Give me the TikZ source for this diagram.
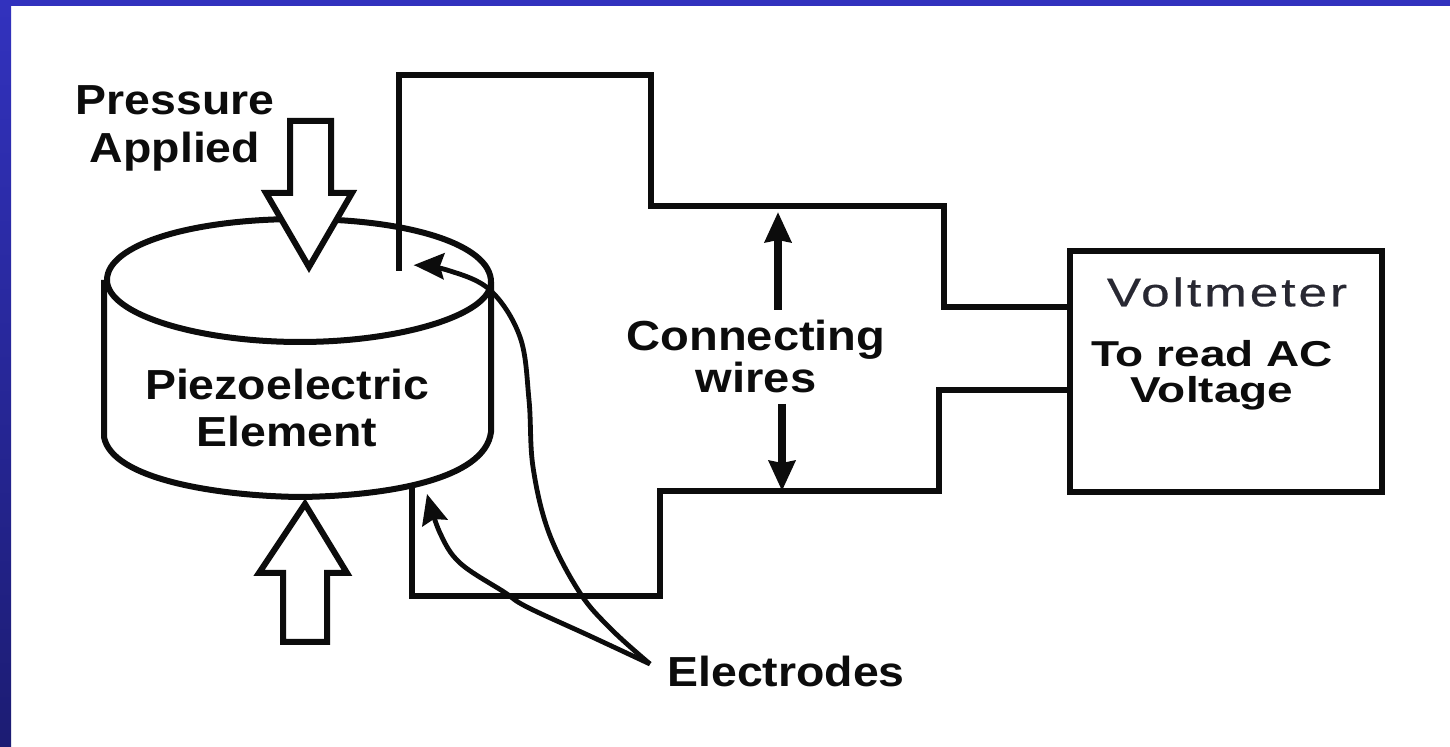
\documentclass[tikz,border=0pt]{standalone}
\usepackage{fontspec}
\setmainfont{Liberation Sans}
\newfontfamily\vmfont[LetterSpace=6,FakeBold=0.5]{Liberation Sans}
\usetikzlibrary{arrows.meta}
\definecolor{frameTop}{RGB}{50,50,190}
\definecolor{frameBot}{RGB}{28,28,115}
\definecolor{ink}{RGB}{12,12,12}
\definecolor{inkSoft}{RGB}{40,40,50}
\tikzset{
  wire/.style={draw=ink,line width=3pt,line join=miter},
  thin wire/.style={draw=ink,line width=2.8pt},
  lead/.style={draw=ink,line width=2.4pt,-{Stealth[inset=2pt,length=15pt,width=13pt]}},
  gauge/.style={draw=ink,line width=3.6pt,-{Stealth[inset=1pt,length=15pt,width=13pt]}},
  block/.style={draw=ink,line width=3pt,fill=white,line join=miter},
  lab/.style={font=\fontsize{21}{24}\selectfont\bfseries,text=ink,align=center,inner sep=0pt,xscale=1.105},
}
\begin{document}
\begin{tikzpicture}[x=0.5pt,y=-0.5pt]
\useasboundingbox (0,0) rectangle (1450,747);
\fill[white] (0,0) rectangle (1450,747);
\shade[top color=frameTop,bottom color=frameBot] (0,0) rectangle (11,747);
\fill[frameTop] (0,0) rectangle (1450,6);
% cylinder
\draw[wire] (104,280) -- (104,437) .. controls (112,480) and (220,496) .. (300,497)
  .. controls (385,496) and (485,480) .. (491,432) -- (491,282);
\draw[wire] (300,219) .. controls (190,219) and (107,245) .. (107,280)
  .. controls (107,315) and (200,342) .. (300,342)
  .. controls (400,342) and (491,315) .. (491,282)
  .. controls (491,245) and (410,219) .. (300,219);
% pressure arrows
\draw[block] (290,121) -- (331,121) -- (331,193) -- (352,193) -- (309,267) -- (266,193) -- (290,193) -- cycle;
\draw[block] (283,642) -- (327,642) -- (327,573) -- (347,573) -- (305,504) -- (259,573) -- (283,573) -- cycle;
% circuit
\coordinate (eTop) at (399,271);
\coordinate (eBot) at (412,488);
\node[draw=ink,line width=3pt,minimum width=156pt,minimum height=120.5pt,inner sep=0pt] (vm) at (1226,371.5) {};
\coordinate (vA) at (vm.west |- 0,307);
\coordinate (vB) at (vm.west |- 0,390);
\draw[thin wire] (eTop) -- (399,75) -- (651,75) -- (651,206) -- (944,206) -- (944,307) -- (vA);
\draw[thin wire] (eBot) -- (412,596) -- (660,596) -- (660,491) -- (939,491) -- (939,390) -- (vB);
% labels
\node[lab] (press) at (175,128) {Pressure\\Applied};
\node[lab,font=\fontsize{21}{23.5}\selectfont\bfseries] (elem) at (287,408) {Piezoelectric\\Element};
\node[lab,font=\fontsize{21}{21}\selectfont\bfseries,xscale=1.015] (conn) at (756,356) {Connecting\\wires};
\node[lab,font=\fontsize{20}{24}\selectfont\vmfont,text=inkSoft,xscale=1.155] (volt) at (1227,292) {Voltmeter};
\node[lab,font=\fontsize{18}{18}\selectfont\bfseries,xscale=1.155] (read) at (1212,375) {To read AC\\Voltage};
\node[lab,anchor=west] (elec) at (667,671) {Electrodes};
% dimension arrows
\coordinate (wTop) at (778,212);
\coordinate (wBot) at (782,491);
\draw[gauge] (778,310) -- (wTop);
\draw[gauge] (782,404) -- (wBot);
% electrode leads
\coordinate (tip) at (650,664);
\draw[lead] plot[smooth,tension=0.6] coordinates {(tip) (612,630) (580,593) (549,533) (533,467) (529,400) (520,337) (490,290) (447,270) (414,265)};
\draw[lead] plot[smooth,tension=0.6] coordinates {(tip) (590,636) (527,607) (504,592) (460,563) (440,533) (427,494)};
\end{tikzpicture}
\end{document}
